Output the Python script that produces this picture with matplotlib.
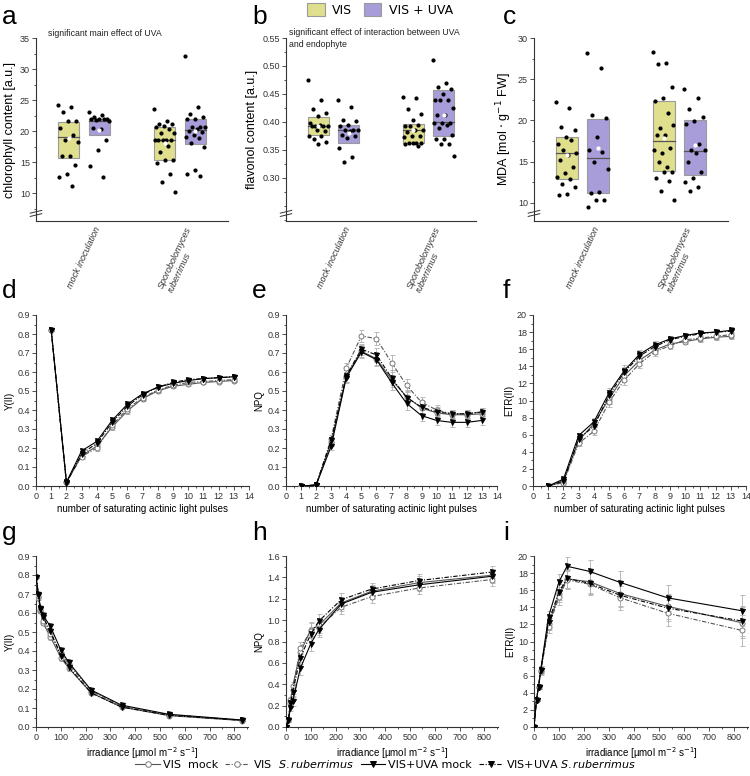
import numpy as np
import matplotlib
matplotlib.use("Agg")
import matplotlib.pyplot as plt
from matplotlib.patches import Patch
from matplotlib.lines import Line2D
from matplotlib.ticker import MultipleLocator, AutoMinorLocator, FormatStrFormatter

plt.rcParams['font.family'] = ['Liberation Sans', 'DejaVu Sans']

# ---------------- data: top row (scatter + box) ----------------
categories = ["mock inoculation", "Sporobolomyces\nruberrimus"]
treatments = ["VIS", "VIS + UVA"]

chl_mock_vis = [24.15, 23.8, 23.0, 21.6, 21.6, 20.5, 19.3, 18.6, 18.3, 15.9, 15.9, 14.5, 13.1, 12.6, 11.2]
chl_mock_uva = [23.1, 22.6, 22.2, 22.0, 21.9, 21.9, 21.9, 21.8, 21.7, 20.3, 20.5, 18.5, 16.9, 14.3, 12.6]
chl_spor_vis = [23.6, 21.6, 21.2, 21.2, 20.8, 20.7, 20.3, 19.7, 19.7, 18.6, 18.6, 18.6, 18.6, 18.5,
                17.6, 16.6, 15.4, 15.4, 14.8, 13.1, 11.8, 10.1]
chl_spor_uva = [32.1, 23.9, 22.8, 22.3, 22.0, 22.0, 20.6, 20.7, 20.7, 20.4, 20.0, 19.8, 19.3, 19.0,
                18.8, 18.0, 17.5, 13.7, 13.1, 12.7]
chl_q1 = [15.7, 19.4, 15.4, 17.9]
chl_med = [19.0, 21.6, 18.5, 20.2]
chl_q3 = [21.5, 22.0, 20.6, 21.9]
chl_mean = [18.8, 20.1, 18.0, 20.0]

fla_mock_vis = [0.475, 0.440, 0.423, 0.416, 0.411, 0.399, 0.393, 0.393, 0.393, 0.394, 0.393, 0.383,
                0.385, 0.374, 0.374, 0.370, 0.364, 0.360]
fla_mock_uva = [0.440, 0.427, 0.403, 0.401, 0.395, 0.392, 0.386, 0.386, 0.386, 0.383, 0.377, 0.374,
                0.371, 0.354, 0.337, 0.329]
fla_spor_vis = [0.445, 0.443, 0.423, 0.415, 0.404, 0.393, 0.394, 0.393, 0.386, 0.386, 0.382, 0.374,
                0.374, 0.373, 0.363, 0.363, 0.363, 0.363, 0.360, 0.357]
fla_spor_uva = [0.510, 0.470, 0.463, 0.459, 0.450, 0.440, 0.440, 0.440, 0.425, 0.413, 0.413, 0.398,
                0.398, 0.398, 0.395, 0.390, 0.376, 0.370, 0.370, 0.360, 0.360, 0.340]
fla_q1 = [0.376, 0.363, 0.363, 0.375]
fla_med = [0.393, 0.385, 0.386, 0.400]
fla_q3 = [0.409, 0.395, 0.397, 0.457]
fla_mean = [0.392, 0.381, 0.385, 0.412]

mda_mock_vis = [22.2, 21.5, 19.2, 18.9, 18.0, 17.2, 17.6, 16.4, 16.1, 15.8, 15.2, 14.4, 13.6, 13.1,
                12.9, 12.3, 11.9, 11.1, 10.9]
mda_mock_uva = [28.2, 26.3, 20.6, 20.3, 18.0, 16.4, 16.2, 14.9, 14.1, 11.3, 11.2, 10.3, 10.3, 9.5]
mda_spor_vis = [28.3, 27.0, 26.8, 24.1, 22.7, 22.4, 20.9, 19.1, 19.5, 18.2, 18.2, 16.6, 16.0, 16.4,
                14.3, 15.0, 13.8, 13.8, 13.0, 12.6, 11.5, 10.4]
mda_spor_uva = [23.8, 22.7, 21.4, 20.4, 19.9, 19.6, 17.2, 16.4, 16.4, 16.0, 14.9, 13.7, 13.0, 12.5,
                11.9, 11.5]
mda_q1 = [12.9, 11.2, 13.9, 13.4]
mda_med = [16.0, 15.5, 17.5, 16.3]
mda_q3 = [18.0, 20.2, 22.3, 20.1]
mda_mean = [15.8, 16.6, 17.9, 17.0]

# ---------------- data: induction curves ----------------
pulses = list(range(1, 14))

y2_vis_mock = [0.82, 0.02, 0.16, 0.21, 0.31, 0.395, 0.46, 0.50, 0.525, 0.535, 0.545, 0.55, 0.555]
y2_vis_srub = [0.82, 0.02, 0.155, 0.20, 0.32, 0.405, 0.465, 0.505, 0.53, 0.545, 0.55, 0.555, 0.56]
y2_uva_mock = [0.82, 0.02, 0.185, 0.235, 0.345, 0.43, 0.485, 0.52, 0.54, 0.555, 0.565, 0.57, 0.575]
y2_uva_srub = [0.82, 0.015, 0.17, 0.225, 0.335, 0.42, 0.48, 0.52, 0.545, 0.56, 0.565, 0.57, 0.575]
y2_err = [0.005, 0.005, 0.012, 0.014, 0.016, 0.016, 0.014, 0.012, 0.010, 0.010, 0.009, 0.009, 0.009]

npq_vis_mock = [0, 0.005, 0.23, 0.58, 0.71, 0.67, 0.56, 0.47, 0.41, 0.385, 0.375, 0.375, 0.38]
npq_vis_srub = [0, 0.005, 0.25, 0.62, 0.79, 0.775, 0.65, 0.53, 0.44, 0.40, 0.38, 0.38, 0.39]
npq_uva_mock = [0, 0.005, 0.21, 0.57, 0.705, 0.665, 0.545, 0.435, 0.37, 0.345, 0.335, 0.335, 0.345]
npq_uva_srub = [0, 0.005, 0.24, 0.58, 0.72, 0.69, 0.57, 0.465, 0.415, 0.39, 0.38, 0.38, 0.39]
npq_err = [0.003, 0.004, 0.02, 0.03, 0.03, 0.035, 0.04, 0.035, 0.03, 0.025, 0.022, 0.022, 0.022]

etr_vis_mock = [0, 0.5, 5.3, 7.3, 10.2, 12.9, 14.7, 15.9, 16.6, 16.9, 17.2, 17.4, 17.5]
etr_vis_srub = [0, 0.4, 5.0, 6.4, 9.8, 12.4, 14.3, 15.7, 16.4, 17.1, 17.3, 17.5, 17.7]
etr_uva_mock = [0, 0.8, 5.9, 7.5, 10.9, 13.5, 15.4, 16.5, 17.2, 17.6, 17.9, 18.0, 18.2]
etr_uva_srub = [0, 0.6, 5.5, 7.0, 10.6, 13.3, 15.2, 16.3, 17.1, 17.5, 17.8, 18.0, 18.1]
etr_err = [0.05, 0.2, 0.3, 0.45, 0.6, 0.6, 0.5, 0.45, 0.4, 0.35, 0.35, 0.35, 0.35]

# ---------------- data: light curves ----------------
irradiance = [0, 10, 18, 27, 58, 100, 132, 222, 345, 535, 830]

lc_y2_vis_mock = [0.79, 0.68, 0.61, 0.55, 0.475, 0.365, 0.31, 0.18, 0.105, 0.06, 0.034]
lc_y2_vis_srub = [0.79, 0.69, 0.615, 0.56, 0.49, 0.39, 0.33, 0.19, 0.11, 0.065, 0.036]
lc_y2_uva_mock = [0.79, 0.70, 0.625, 0.59, 0.53, 0.405, 0.34, 0.195, 0.115, 0.067, 0.037]
lc_y2_uva_srub = [0.79, 0.695, 0.62, 0.58, 0.505, 0.375, 0.315, 0.18, 0.105, 0.062, 0.035]
lc_y2_err = [0.005, 0.01, 0.012, 0.015, 0.018, 0.018, 0.015, 0.01, 0.006, 0.004, 0.003]

lc_npq_vis_mock = [0, 0.07, 0.25, 0.38, 0.70, 0.91, 0.95, 1.16, 1.27, 1.35, 1.42]
lc_npq_vis_srub = [0, 0.07, 0.22, 0.35, 0.74, 0.90, 0.93, 1.12, 1.22, 1.30, 1.38]
lc_npq_uva_mock = [0, 0.07, 0.18, 0.24, 0.55, 0.78, 0.91, 1.15, 1.26, 1.33, 1.41]
lc_npq_uva_srub = [0, 0.07, 0.22, 0.33, 0.65, 0.87, 0.99, 1.19, 1.29, 1.37, 1.45]
lc_npq_err = [0.005, 0.02, 0.03, 0.04, 0.06, 0.07, 0.07, 0.06, 0.06, 0.06, 0.06]

lc_etr_vis_mock = [0, 3.2, 4.7, 6.6, 12.0, 15.5, 17.3, 17.0, 15.6, 14.1, 12.2]
lc_etr_vis_srub = [0, 3.2, 4.7, 6.5, 11.7, 15.2, 17.2, 16.7, 15.1, 13.3, 11.3]
lc_etr_uva_mock = [0, 3.2, 4.7, 6.7, 12.9, 17.0, 18.8, 18.2, 16.9, 15.1, 13.6]
lc_etr_uva_srub = [0, 3.2, 4.7, 6.7, 12.3, 15.8, 17.4, 16.8, 15.4, 13.9, 12.4]
lc_etr_err = [0.05, 0.2, 0.3, 0.4, 0.7, 0.9, 1.1, 1.3, 1.4, 1.5, 1.8]

# ---------------- style ----------------
C_VIS = "#dfdf8e"
C_UVA = "#a89dd9"
EDGE = "#9a9a9a"
W, H = 750, 776

fig = plt.figure(figsize=(7.5, 7.76), dpi=100)


def add_ax(x0, x1, y0, y1):
    return fig.add_axes([x0 / W, 1 - y1 / H, (x1 - x0) / W, (y1 - y0) / H])


def style_axis(ax):
    for s in ("top", "right"):
        ax.spines[s].set_visible(False)
    for s in ("left", "bottom"):
        ax.spines[s].set_linewidth(0.8)
        ax.spines[s].set_color("#333333")
    ax.tick_params(which="both", direction="out", labelsize=6.5, colors="#333333", width=0.6, pad=1.5)
    ax.tick_params(which="major", length=2.8)
    ax.tick_params(which="minor", length=1.6)


def golden_offsets(n, width):
    k = np.arange(n)
    return ((k * 0.618034) % 1.0 - 0.5) * width


def box_panel(ax, groups, q1, med, q3, mean, ylim, ylabel):
    style_axis(ax)
    centers = [1, 1, 3, 3]
    offs = [-0.32, 0.32, -0.32, 0.32]
    cols = [C_VIS, C_UVA, C_VIS, C_UVA]
    bw = 0.44
    for i, vals in enumerate(groups):
        xc = centers[i] + offs[i]
        ax.bar(xc, q3[i] - q1[i], bottom=q1[i], width=bw, color=cols[i],
               edgecolor=EDGE, linewidth=0.8, zorder=2)
        ax.plot([xc - bw / 2, xc + bw / 2], [med[i], med[i]], color="#555555", lw=0.9, zorder=3)
        xs = xc + golden_offsets(len(vals), bw * 1.0)
        ax.plot(xs, vals, "o", ms=2.0, color="black", zorder=4, linestyle="none")
        ax.plot(xc, mean[i], "o", ms=2.0, color="white", zorder=5)
    ax.set_xlim(0, 4)
    ax.set_ylim(*ylim)
    ax.yaxis.set_minor_locator(AutoMinorLocator(2))
    ax.set_xticks([1, 3])
    ax.set_xticklabels(categories, rotation=65, ha="center", va="top",
                       multialignment="left", style="italic", fontsize=6.5)
    ax.tick_params(axis="x", length=0, pad=3)
    ax.set_ylabel(ylabel, fontsize=9, labelpad=3)
    # axis break marker
    for dy in (0.0, 0.018):
        ax.plot([-0.03, 0.03], [0.025 + dy, 0.04 + dy], transform=ax.transAxes,
                color="#333333", lw=0.7, clip_on=False)


ax_a = add_ax(36, 228, 38, 221)
box_panel(ax_a, [chl_mock_vis, chl_mock_uva, chl_spor_vis, chl_spor_uva],
          chl_q1, chl_med, chl_q3, chl_mean, (5.5, 35), "chlorophyll content [a.u.]")
ax_a.set_yticks([10, 15, 20, 25, 30, 35])
fig.text(48 / W, 1 - 33 / H, "significant main effect of UVA", fontsize=6.3, va="center",
         ha="left", color="#222222")

ax_b = add_ax(286, 476, 38, 221)
box_panel(ax_b, [fla_mock_vis, fla_mock_uva, fla_spor_vis, fla_spor_uva],
          fla_q1, fla_med, fla_q3, fla_mean, (0.223, 0.55), "flavonol content [a.u.]")
ax_b.set_yticks([0.30, 0.35, 0.40, 0.45, 0.50, 0.55])
ax_b.yaxis.set_major_formatter(FormatStrFormatter("%.2f"))
fig.text(289 / W, 1 - 28 / H, "significant effect of interaction between UVA\nand endophyte",
         fontsize=6.3, va="top", ha="left", color="#222222", linespacing=1.45)

ax_c = add_ax(534, 728, 38, 221)
box_panel(ax_c, [mda_mock_vis, mda_mock_uva, mda_spor_vis, mda_spor_uva],
          mda_q1, mda_med, mda_q3, mda_mean, (7.8, 30), r"MDA [mol $\cdot$ g$^{-1}$ FW]")
ax_c.set_yticks([10, 15, 20, 25, 30])

# ---------------- line panels ----------------
DASHDOT = (0, (4, 1.5, 1, 1.5))
series_style = [
    dict(color="#555555", ls="-", marker="o", mfc="white", mec="#7a7a7a"),
    dict(color="#555555", ls=DASHDOT, marker="o", mfc="white", mec="#7a7a7a"),
    dict(color="black", ls="-", marker="v", mfc="black", mec="black"),
    dict(color="black", ls=DASHDOT, marker="v", mfc="black", mec="black"),
]


def line_panel(ax, x, ys, err, xlim, xmajor, ylim, ymajor, ylabel, xlabel, yfmt):
    style_axis(ax)
    for y, st in zip(ys, series_style):
        ax.errorbar(x, y, yerr=err, fmt="none", ecolor="#b0b0b0", elinewidth=0.6,
                    capsize=1.8, capthick=0.6, zorder=2)
        ax.plot(x, y, color=st["color"], ls=st["ls"], lw=0.8, marker=st["marker"], ms=3.6,
                mfc=st["mfc"], mec=st["mec"], mew=0.7, zorder=3)
    ax.set_xlim(*xlim)
    ax.set_ylim(*ylim)
    ax.xaxis.set_major_locator(MultipleLocator(xmajor))
    ax.xaxis.set_minor_locator(AutoMinorLocator(2))
    ax.yaxis.set_major_locator(MultipleLocator(ymajor))
    ax.yaxis.set_minor_locator(AutoMinorLocator(2))
    ax.yaxis.set_major_formatter(FormatStrFormatter(yfmt))
    ax.set_ylabel(ylabel, fontsize=7, labelpad=2)
    ax.set_xlabel(xlabel, fontsize=7, labelpad=2)


xl_p = "number of saturating actinic light pulses"
xl_i = r"irradiance [µmol m$^{-2}$ s$^{-1}$]"

ax_d = add_ax(36, 249, 315, 486)
line_panel(ax_d, pulses, [y2_vis_mock, y2_vis_srub, y2_uva_mock, y2_uva_srub], y2_err,
           (0, 14), 1, (0, 0.9), 0.1, "Y(II)", xl_p, "%.1f")
ax_e = add_ax(286, 497, 315, 486)
line_panel(ax_e, pulses, [npq_vis_mock, npq_vis_srub, npq_uva_mock, npq_uva_srub], npq_err,
           (0, 14), 1, (0, 0.9), 0.1, "NPQ", xl_p, "%.1f")
ax_f = add_ax(533, 746, 315, 486)
line_panel(ax_f, pulses, [etr_vis_mock, etr_vis_srub, etr_uva_mock, etr_uva_srub], etr_err,
           (0, 14), 1, (0, 20), 2, "ETR(II)", xl_p, "%d")

ax_g = add_ax(36, 248, 556, 727)
line_panel(ax_g, irradiance, [lc_y2_vis_mock, lc_y2_vis_srub, lc_y2_uva_mock, lc_y2_uva_srub],
           lc_y2_err, (0, 855), 100, (0, 0.9), 0.1, "Y(II)", xl_i, "%.1f")
ax_h = add_ax(286, 498, 556, 727)
line_panel(ax_h, irradiance, [lc_npq_vis_mock, lc_npq_vis_srub, lc_npq_uva_mock, lc_npq_uva_srub],
           lc_npq_err, (0, 855), 100, (0, 1.6), 0.2, "NPQ", xl_i, "%.1f")
ax_i = add_ax(534, 748, 556, 727)
line_panel(ax_i, irradiance, [lc_etr_vis_mock, lc_etr_vis_srub, lc_etr_uva_mock, lc_etr_uva_srub],
           lc_etr_err, (0, 855), 100, (0, 20), 2, "ETR(II)", xl_i, "%d")

# panel letters
for lab, (px, py) in zip("abcdefghi", [(2, 24), (252, 24), (503, 24), (2, 298), (252, 298),
                                       (503, 298), (2, 540), (252, 540), (503, 540)]):
    fig.text(px / W, 1 - py / H, lab, fontsize=19, ha="left", va="baseline")

# top legend
top_handles = [Patch(facecolor=C_VIS, edgecolor=EDGE, linewidth=0.8),
               Patch(facecolor=C_UVA, edgecolor=EDGE, linewidth=0.8)]
fig.legend(top_handles, treatments, loc="center", bbox_to_anchor=(380 / W, 1 - 10 / H),
           ncol=2, frameon=False, handlelength=1.4, handleheight=1.2,
           columnspacing=0.9, handletextpad=0.6, prop={"family": "DejaVu Sans", "size": 9})

# bottom legend
bottom_labels = ["VIS  mock", r"VIS  $\it{S.ruberrimus}$", "VIS+UVA mock", r"VIS+UVA $\it{S.ruberrimus}$"]
bottom_handles = [Line2D([], [], color=st["color"], ls=st["ls"], lw=0.8, marker=st["marker"], ms=4,
                         mfc=st["mfc"], mec=st["mec"], mew=0.7) for st in series_style]
fig.legend(bottom_handles, bottom_labels, loc="center", bbox_to_anchor=(386 / W, 1 - 764 / H),
           ncol=4, frameon=False, handlelength=2.2, columnspacing=0.6, handletextpad=0.3,
           borderpad=0.1, prop={"family": "DejaVu Sans", "size": 8})

fig.savefig("out.png", dpi=100)
